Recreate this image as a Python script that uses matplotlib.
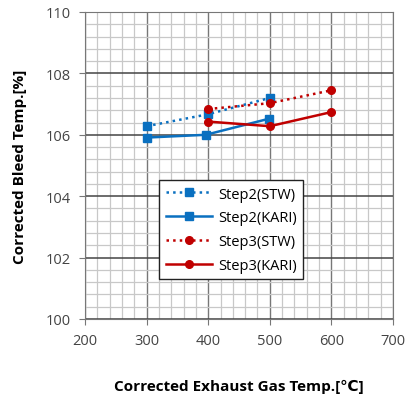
import matplotlib
matplotlib.use("Agg")
import matplotlib.pyplot as plt
from matplotlib.ticker import MultipleLocator

plt.rcParams['font.family'] = ['Open Sans', 'DejaVu Sans']

x_s2_stw = [300, 400, 500]
y_s2_stw = [106.28, 106.67, 107.2]
x_s2_kari = [300, 396, 498]
y_s2_kari = [105.91, 106.0, 106.52]
x_s3_stw = [400, 500, 600]
y_s3_stw = [106.84, 107.03, 107.45]
x_s3_kari = [400, 500, 600]
y_s3_kari = [106.43, 106.28, 106.74]

blue = '#0a70c0'
red = '#c00000'

fig = plt.figure(figsize=(4.06, 4.02), dpi=100)
ax = fig.add_axes([85/406, 1-320/402, (393-85)/406, (320-13)/402])

ax.set_xlim(200, 700)
ax.set_ylim(100, 110)
ax.xaxis.set_major_locator(MultipleLocator(100))
ax.xaxis.set_minor_locator(MultipleLocator(20))
ax.yaxis.set_major_locator(MultipleLocator(2))
ax.yaxis.set_minor_locator(MultipleLocator(0.4))
ax.grid(which='minor', color='#c8c8c8', linewidth=0.9)
ax.grid(axis='x', which='major', color='#777777', linewidth=1.0)
ax.grid(axis='y', which='major', color='#444444', linewidth=1.1)
ax.set_axisbelow(True)
ax.tick_params(which='minor', length=0)
ax.tick_params(which='major', direction='out', length=4, color='#777777', labelsize=10.5, labelcolor='#444444', pad=6)
for s in ax.spines.values():
    s.set_color('#777777')

ax.plot(x_s2_stw, y_s2_stw, linestyle=':', color=blue, marker='s', markersize=5.5, linewidth=1.8, label='Step2(STW)')
ax.plot(x_s2_kari, y_s2_kari, linestyle='-', color=blue, marker='s', markersize=5.5, linewidth=1.8, label='Step2(KARI)')
ax.plot(x_s3_stw, y_s3_stw, linestyle=':', color=red, marker='o', markersize=5.5, linewidth=1.8, label='Step3(STW)')
ax.plot(x_s3_kari, y_s3_kari, linestyle='-', color=red, marker='o', markersize=5.5, linewidth=1.8, label='Step3(KARI)')

leg = ax.legend(loc='upper left', bbox_to_anchor=((159-85)/308, (320-181)/307), fontsize=10.5,
                frameon=True, fancybox=False, edgecolor='#222222', framealpha=1, numpoints=1,
                handlelength=3.2, borderpad=0.45, labelspacing=0.6, handletextpad=0.4,
                borderaxespad=0)
leg.get_frame().set_linewidth(1.0)

ax.set_xlabel('Corrected Exhaust Gas Temp.[℃]', fontsize=11, fontweight='bold', labelpad=22)
ax.set_ylabel('Corrected Bleed Temp.[%]', fontsize=11, fontweight='bold', labelpad=14)

fig.savefig('out.png', dpi=100, facecolor='white')
